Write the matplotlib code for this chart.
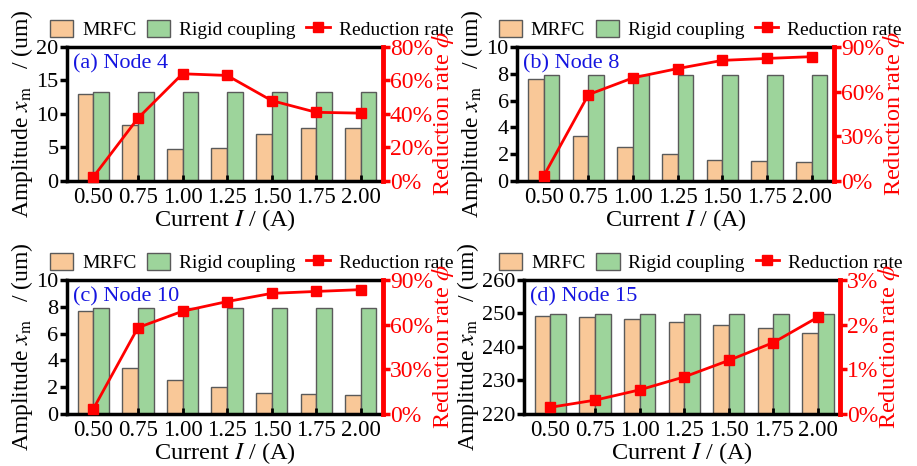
import numpy as np
import matplotlib as mpl
mpl.use('Agg')
import matplotlib.pyplot as plt
from matplotlib.ticker import FuncFormatter

### plot settings - times look
plt.rcParams['font.family'] = 'Liberation Serif'
plt.rcParams['mathtext.fontset'] = 'stix'
plt.rcParams['font.size'] = 16

##################################################
#### data
currents = ['0.50', '0.75', '1.00', '1.25', '1.50', '1.75', '2.00']

a_mrfc = [13.05, 8.35, 4.75, 4.9, 7.0, 7.9, 7.9]
a_rigid = [13.25] * 7
a_rate = [2.5, 37.5, 64, 63, 48, 41, 40.5]

b_mrfc = [7.63, 3.35, 2.52, 2.0, 1.58, 1.48, 1.38]
b_rigid = [7.9] * 7
b_rate = [3.5, 58, 69.3, 75.5, 81, 82.3, 83.5]

c_mrfc = [7.7, 3.4, 2.55, 2.0, 1.6, 1.5, 1.4]
c_rigid = [7.9] * 7
c_rate = [3.5, 58, 69, 75.5, 81, 82.3, 83.5]

d_mrfc = [249.3, 248.9, 248.3, 247.5, 246.7, 245.7, 244.3]
d_rigid = [249.7] * 7
d_rate = [0.15, 0.31, 0.54, 0.83, 1.2, 1.6, 2.17]

c_mr = '#f9c898'
c_rg = '#9dd49b'
c_edge = '#5a5a5a'

###########################################################################
#### create figure
fig = plt.figure(figsize=(9.17, 4.66), dpi=100)

def panel(pos, mrfc, rigid, rate, ylim, yticks, rlim, rticks, title, lx):
    ax = fig.add_axes(pos)
    x = np.arange(len(currents))
    w = 0.35
    ax.bar(x - w/2, np.array(mrfc) - ylim[0], w, bottom=ylim[0], color=c_mr,
           edgecolor=c_edge, linewidth=1, label='MRFC')
    ax.bar(x + w/2, np.array(rigid) - ylim[0], w, bottom=ylim[0], color=c_rg,
           edgecolor=c_edge, linewidth=1, label='Rigid coupling')
    ax.set_xlim(-0.6, 6.5)
    ax.set_ylim(ylim)
    ax.set_yticks(yticks)
    ax.set_xticks(x)
    ax.set_xticklabels(currents)
    ax.tick_params(axis='x', direction='in', length=4, width=2, pad=4,
                   labelsize=16.5)
    ax.tick_params(axis='y', direction='out', length=5, width=2.5, pad=1,
                   labelsize=16)
    for s in ['left', 'bottom', 'top']:
        ax.spines[s].set_linewidth(2.5)
    ax.spines['right'].set_visible(False)
    ax.set_xlabel('Current $I$ / (A)', labelpad=0, fontsize=17.5)
    ax.set_ylabel('Amplitude $x_{\\mathrm{m}}$   / (um)', labelpad=1,
                  fontsize=17)
    ax.text(0.02, 0.84, title, color='#1515e0', transform=ax.transAxes,
            fontsize=16)

    ax2 = ax.twinx()
    ax2.plot(x, np.array(rate) / 100, color='red', lw=2, marker='s', ms=7,
             label='Reduction rate', clip_on=False, zorder=5)
    ax2.set_ylim(np.array(rlim) / 100)
    ax2.set_yticks(np.array(rticks) / 100)
    ax2.yaxis.set_major_formatter(FuncFormatter(lambda v, p: '%d%%' % round(v * 100)))
    ax2.spines['right'].set_color('red')
    ax2.spines['right'].set_linewidth(3.5)
    for s in ['left', 'bottom', 'top']:
        ax2.spines[s].set_visible(False)
    ax2.tick_params(axis='y', colors='red', direction='out', length=5,
                    width=2.5, pad=0, labelsize=17)
    ax2.set_ylabel('Reduction rate $\\phi$', color='red', labelpad=-2,
                   fontsize=17.5)

    h1, l1 = ax.get_legend_handles_labels()
    h2, l2 = ax2.get_legend_handles_labels()
    ax.legend(h1 + h2, l1 + l2, loc='lower left', bbox_to_anchor=(lx, 1.03),
              ncol=3, frameon=False, borderpad=0.1, borderaxespad=0.1,
              handlelength=1.2, handleheight=1.0, handletextpad=0.45,
              columnspacing=0.55, fontsize=14)
    return ax, ax2

panel([0.0727, 0.6116, 0.345, 0.2876], a_mrfc, a_rigid, a_rate,
      (0, 20), [0, 5, 10, 15, 20], (0, 80), [0, 20, 40, 60, 80],
      '(a) Node 4', -0.065)
panel([0.5638, 0.6116, 0.3457, 0.2876], b_mrfc, b_rigid, b_rate,
      (0, 10), [0, 2, 4, 6, 8, 10], (0, 90), [0, 30, 60, 90],
      '(b) Node 8', -0.07)
panel([0.0727, 0.1116, 0.345, 0.2876], c_mrfc, c_rigid, c_rate,
      (0, 10), [0, 2, 4, 6, 8, 10], (0, 90), [0, 30, 60, 90],
      '(c) Node 10', -0.065)
panel([0.5711, 0.1116, 0.3453, 0.2876], d_mrfc, d_rigid, d_rate,
      (220, 260), [220, 230, 240, 250, 260], (0, 3), [0, 1, 2, 3],
      '(d) Node 15', -0.09)

fig.savefig('out.png', dpi=100)
plt.close()
